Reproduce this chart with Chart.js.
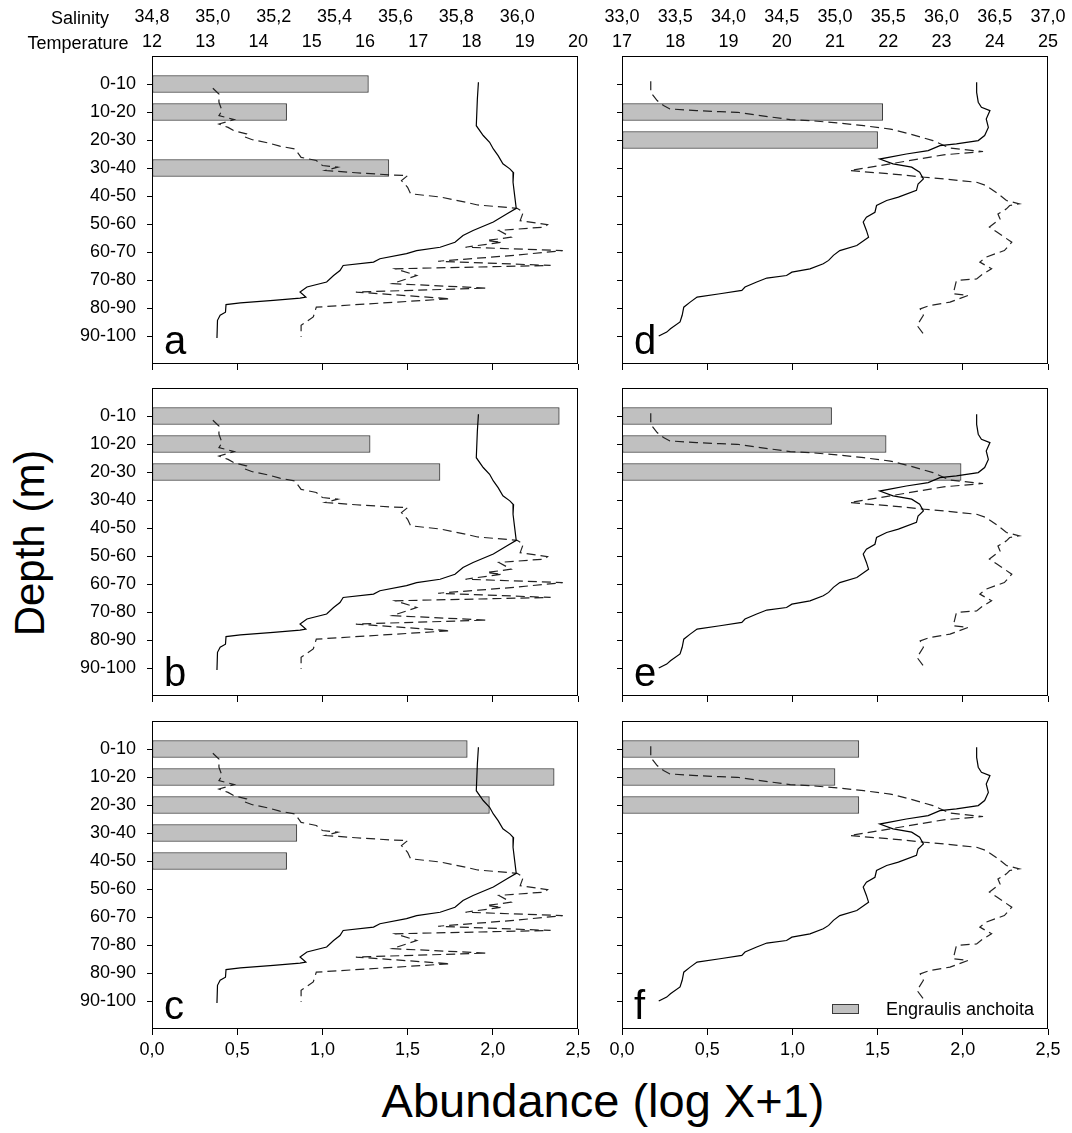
<!DOCTYPE html>
<html>
<head>
<meta charset="utf-8">
<script src="https://cdn.jsdelivr.net/npm/chart.js@4.4.1/dist/chart.umd.min.js"></script>
<style>
    body { margin: 0; width: 1072px; height: 1133px; position: relative; overflow: hidden; background: #fff;
           font-family: 'Liberation Sans', Arial, Helvetica, sans-serif; color: #000; }
    canvas { position: absolute; }
    .txt { position: absolute; white-space: nowrap; line-height: 1; }
    .legend-box { position: absolute; background: #c0c0c0; border: 1px solid #3a3a3a; box-sizing: border-box; }
</style>
</head>
<body>
<script>
const categories = ['0-10', '10-20', '20-30', '30-40', '40-50', '50-60', '60-70', '70-80', '80-90', '90-100'];

// abundance (log X+1) per depth stratum, null = no catch
const abundanceA = [1.27, 0.79, null, 1.39, null, null, null, null, null, null];
const abundanceB = [2.39, 1.28, 1.69, null, null, null, null, null, null, null];
const abundanceC = [1.85, 2.36, 1.98, 0.85, 0.79, null, null, null, null, null];
const abundanceD = [null, 1.53, 1.50, null, null, null, null, null, null, null];
const abundanceE = [1.23, 1.55, 1.99, null, null, null, null, null, null, null];
const abundanceF = [1.39, 1.25, 1.39, null, null, null, null, null, null, null];

const abundanceTicks = [0, 0.5, 1, 1.5, 2, 2.5];
const leftTempTicks = [12, 13, 14, 15, 16, 17, 18, 19, 20];
const leftSalTicks = [34.8, 35.0, 35.2, 35.4, 35.6, 35.8, 36.0];
const rightTempTicks = [17, 18, 19, 20, 21, 22, 23, 24, 25];
const rightSalTicks = [33.0, 33.5, 34.0, 34.5, 35.0, 35.5, 36.0, 36.5, 37.0];

// CTD profiles, left column (a, b, c)
const leftTempDepth = [4.4, 10.4, 19.9, 23.4, 25.8, 28.2, 30.6, 33.5, 35.3, 36.7, 40.1, 44.8, 49.4, 51.4, 54.3, 57.3, 59.1, 61.5, 63.3, 64.5,
    65.6, 67.4, 68.6, 69.8, 71.6, 73.4, 75.7, 77.5, 79.3, 81.1, 81.5, 82.3, 83.2, 83.8, 86.5, 87.6, 89.4, 95.7];
const leftTemp = [18.13, 18.11, 18.09, 18.22, 18.34, 18.41, 18.50, 18.59, 18.72, 18.79, 18.78, 18.81, 18.84, 18.66, 18.41, 18.03, 17.84, 17.69, 17.41, 16.97,
    16.78, 16.28, 16.16, 15.59, 15.53, 15.41, 15.28, 14.91, 14.78, 14.89, 14.78, 14.28, 13.66, 13.39, 13.38, 13.28, 13.23, 13.22];
const leftSalDepth = [6.5, 8.6, 11.5, 14.5, 16.3, 17.7, 19.3, 20.5, 21.7, 22.8, 23.7, 24.9, 26.0, 27.2, 28.2, 31.2, 32.3, 34.1, 34.7, 35.9,
    36.7, 37.5, 37.7, 39.5, 41.9, 44.2, 45.4, 47.2, 48.2, 49.4, 50.8, 53.8, 55.2, 56.1, 57.3, 59.7, 60.9, 61.5, 63.3, 64.5,
    66.2, 68.3, 69.8, 71.0, 73.4, 76.3, 77.9, 79.3, 81.7, 84.7, 88.2, 91.2, 95.4];
const leftSal = [35.00, 35.02, 35.02, 35.03, 35.02, 35.07, 35.02, 35.05, 35.07, 35.11, 35.10, 35.13, 35.18, 35.22, 35.27, 35.29, 35.34, 35.36, 35.41, 35.37,
    35.47, 35.59, 35.64, 35.62, 35.64, 35.65, 35.75, 35.83, 35.87, 36.00, 36.02, 36.01, 36.10, 36.09, 35.94, 35.98, 35.90, 35.95, 35.83, 36.15,
    35.99, 35.74, 36.11, 35.60, 35.67, 35.59, 35.90, 35.47, 35.78, 35.34, 35.33, 35.29, 35.29];

// CTD profiles, right column (d, e, f)
const rightTempDepth = [4.4, 8.0, 11.5, 13.3, 14.5, 17.5, 20.5, 23.4, 25.2, 26.4, 27.0, 28.8, 30.0, 31.8, 33.5, 34.7, 36.5, 38.9, 40.7, 43.0,
    45.4, 46.6, 48.4, 50.8, 52.6, 54.3, 57.3, 59.7, 62.7, 64.5, 66.2, 68.0, 69.2, 71.0, 72.2, 73.4, 74.3, 75.7, 77.5, 78.7,
    79.9, 81.1, 82.9, 84.7, 87.6, 90.0, 92.4, 93.6, 95.0];
const rightTemp = [23.66, 23.66, 23.69, 23.75, 23.91, 23.84, 23.88, 23.81, 23.69, 23.28, 22.97, 22.75, 22.34, 21.84, 22.09, 22.44, 22.59, 22.66, 22.56, 22.53,
    22.19, 21.97, 21.78, 21.75, 21.59, 21.53, 21.59, 21.63, 21.41, 21.09, 20.97, 20.88, 20.78, 20.53, 20.19, 20.09, 19.72, 19.53, 19.31, 19.25,
    18.84, 18.41, 18.28, 18.16, 18.13, 18.09, 17.91, 17.84, 17.69];
const rightSalDepth = [4.0, 8.0, 10.9, 12.7, 13.9, 14.5, 14.9, 15.1, 16.3, 17.7, 18.1, 18.9, 19.9, 21.1, 22.8, 25.2, 27.9, 29.1, 30.3, 33.5,
    35.9, 36.7, 37.5, 38.3, 38.9, 40.1, 41.3, 44.2, 46.6, 47.8, 48.4, 49.6, 51.4, 53.2, 56.1, 57.9, 61.5, 64.5, 66.8, 68.6,
    71.0, 72.8, 74.6, 75.2, 79.9, 80.5, 82.9, 84.1, 85.3, 87.6, 91.2, 94.8];
const rightSal = [33.27, 33.27, 33.33, 33.39, 33.45, 33.70, 33.92, 34.08, 34.30, 34.58, 34.77, 35.02, 35.27, 35.52, 35.70, 35.92, 36.08, 36.39, 36.02, 35.52,
    35.14, 35.39, 35.64, 35.84, 36.02, 36.33, 36.42, 36.53, 36.61, 36.73, 36.64, 36.61, 36.53, 36.55, 36.45, 36.52, 36.66, 36.59, 36.42, 36.36,
    36.47, 36.39, 36.33, 36.14, 36.11, 36.25, 36.08, 35.89, 35.80, 35.83, 35.77, 35.84];

// layout
const PLOT_W = 426, PLOT_H = 308;
const Y_AXIS_W = 90, PAD_RIGHT = 24, PAD_TOP = 6;
const TEMP_AXIS_H = 26, SAL_AXIS_H = 30;
const colLeft = [152, 622];
const rowTop = [56, 388, 721];
const DEPTH_MIN = -5, DEPTH_MAX = 105;
const FONT = "'Liberation Sans', Arial, Helvetica, sans-serif";

Chart.defaults.font.family = FONT;
Chart.defaults.color = '#000';

const comma = (v, digits) => v.toFixed(digits).replace('.', ',');
// middle of a depth stratum ("10-20" -> 15)
const stratumMid = (label) => label.split('-').map(Number).reduce((a, b) => a + b) / 2;

const columns = [
    { tempTicks: leftTempTicks, salTicks: leftSalTicks, salMax: 36.2,
      tempDepth: leftTempDepth, temp: leftTemp, salDepth: leftSalDepth, sal: leftSal },
    { tempTicks: rightTempTicks, salTicks: rightSalTicks, salMax: 37.0,
      tempDepth: rightTempDepth, temp: rightTemp, salDepth: rightSalDepth, sal: rightSal }
];

const panels = [
    { letter: 'a', col: 0, row: 0, values: abundanceA },
    { letter: 'b', col: 0, row: 1, values: abundanceB },
    { letter: 'c', col: 0, row: 2, values: abundanceC },
    { letter: 'd', col: 1, row: 0, values: abundanceD },
    { letter: 'e', col: 1, row: 1, values: abundanceE },
    { letter: 'f', col: 1, row: 2, values: abundanceF, legend: true }
];

// box round the plot area
const frame = {
    id: 'frame',
    afterDatasetsDraw(chart) {
        const { ctx, chartArea: a } = chart;
        ctx.save();
        ctx.strokeStyle = '#000';
        ctx.lineWidth = 1;
        ctx.strokeRect(a.left + 0.5, a.top + 0.5, a.right - a.left - 1, a.bottom - a.top - 1);
        ctx.restore();
    }
};

function addText(text, css) {
    const d = document.createElement('div');
    d.className = 'txt';
    d.textContent = text;
    d.style.cssText += css;
    document.body.appendChild(d);
    return d;
}

function makePanel(p) {
    const c = columns[p.col];
    const top = p.row === 0;
    const bottom = p.row === 2;
    const topSpace = top ? TEMP_AXIS_H + SAL_AXIS_H : PAD_TOP;
    const bottomH = bottom ? 42 : 10;
    const w = Y_AXIS_W + PLOT_W + PAD_RIGHT;
    const h = topSpace + PLOT_H + bottomH;

    const canvas = document.createElement('canvas');
    canvas.width = w;
    canvas.height = h;
    canvas.style.left = (colLeft[p.col] - Y_AXIS_W) + 'px';
    canvas.style.top = (rowTop[p.row] - topSpace) + 'px';
    canvas.style.width = w + 'px';
    canvas.style.height = h + 'px';
    document.body.appendChild(canvas);

    const tickFont = { size: 18, family: FONT };
    const noPadX = (s) => { s.paddingLeft = 0; s.paddingRight = 0; };

    new Chart(canvas, {
        type: 'bar',
        data: {
            datasets: [
                {
                    type: 'line',
                    label: 'Temperature',
                    data: c.tempDepth.map((d, i) => ({ x: c.temp[i], y: d })),
                    xAxisID: 'temp', yAxisID: 'y',
                    borderColor: '#000', borderWidth: 1.2, pointRadius: 0, tension: 0, order: 1
                },
                {
                    type: 'line',
                    label: 'Salinity',
                    data: c.salDepth.map((d, i) => ({ x: c.sal[i], y: d })),
                    xAxisID: 'sal', yAxisID: 'y',
                    borderColor: '#222', borderWidth: 1.2, borderDash: [9, 5], pointRadius: 0, tension: 0, order: 1
                },
                {
                    type: 'bar',
                    label: 'Engraulis anchoita',
                    data: categories.map((cat, i) => ({ x: p.values[i], y: stratumMid(cat) })).filter(d => d.x != null),
                    xAxisID: 'x', yAxisID: 'y',
                    backgroundColor: '#c0c0c0', borderColor: '#3a3a3a', borderWidth: 1, borderSkipped: false,
                    barThickness: 17, order: 2
                }
            ]
        },
        options: {
            indexAxis: 'y',
            responsive: false,
            animation: false,
            events: [],
            layout: { padding: { top: top ? 0 : PAD_TOP, right: PAD_RIGHT, bottom: 0, left: 0 } },
            plugins: { legend: { display: false }, tooltip: { enabled: false } },
            scales: {
                x: {
                    type: 'linear', axis: 'x', position: 'bottom', offset: false,
                    min: abundanceTicks[0], max: abundanceTicks[abundanceTicks.length - 1],
                    afterBuildTicks: (s) => { s.ticks = abundanceTicks.map(v => ({ value: v })); },
                    afterFit: (s) => { s.height = bottomH; noPadX(s); },
                    border: { display: false },
                    grid: { drawOnChartArea: false, offset: false, color: '#000', tickLength: 6 },
                    ticks: { display: bottom, font: tickFont, padding: 4, autoSkip: false, maxRotation: 0,
                             callback: (v) => comma(v, 1) }
                },
                y: {
                    type: 'linear', axis: 'y', position: 'left', reverse: true, offset: false,
                    min: DEPTH_MIN, max: DEPTH_MAX,
                    afterBuildTicks: (s) => { s.ticks = categories.map(cat => ({ value: stratumMid(cat) })); },
                    afterFit: (s) => { s.width = Y_AXIS_W; s.paddingTop = 0; s.paddingBottom = 0; },
                    border: { display: false },
                    grid: { drawOnChartArea: false, offset: false, color: '#000', tickLength: 5 },
                    ticks: { font: tickFont, padding: 11, autoSkip: false,
                             callback: (v) => p.col === 0 ? categories.find(cat => stratumMid(cat) === v) : '' }
                },
                temp: {
                    type: 'linear', axis: 'x', position: 'top', weight: 0, display: top, offset: false,
                    min: c.tempTicks[0], max: c.tempTicks[c.tempTicks.length - 1],
                    afterBuildTicks: (s) => { s.ticks = c.tempTicks.map(v => ({ value: v })); },
                    afterFit: (s) => { s.height = top ? TEMP_AXIS_H : 0; noPadX(s); },
                    border: { display: false },
                    grid: { display: false, drawTicks: false },
                    ticks: { font: tickFont, padding: 3, autoSkip: false, maxRotation: 0,
                             callback: (v) => String(v) }
                },
                sal: {
                    type: 'linear', axis: 'x', position: 'top', weight: 1, display: top, offset: false,
                    min: c.salTicks[0], max: c.salMax,
                    afterBuildTicks: (s) => { s.ticks = c.salTicks.map(v => ({ value: v })); },
                    afterFit: (s) => { s.height = top ? SAL_AXIS_H : 0; noPadX(s); },
                    border: { display: false },
                    grid: { display: false, drawTicks: false },
                    ticks: { font: tickFont, padding: 2, autoSkip: false, maxRotation: 0,
                             callback: (v) => comma(v, 1) }
                }
            }
        },
        plugins: [frame]
    });

    // panel letter, baseline about 10px above the bottom of the box
    const plotBottom = rowTop[p.row] + PLOT_H;
    addText(p.letter, `font-size:40px;left:${colLeft[p.col] + 12}px;top:${plotBottom - 10 - 34}px;`);

    if (p.legend) {
        const box = document.createElement('div');
        box.className = 'legend-box';
        box.style.cssText = `left:${colLeft[p.col] + 210}px;top:${plotBottom - 25}px;width:27px;height:10px;`;
        document.body.appendChild(box);
        addText('Engraulis anchoita', `font-size:18px;left:${colLeft[p.col] + 264}px;top:${plotBottom - 29}px;`);
    }
}

panels.forEach(makePanel);

addText('Salinity', 'font-size:18px;left:80px;top:9px;transform:translateX(-50%);');
addText('Temperature', 'font-size:18px;left:78px;top:34px;transform:translateX(-50%);');
addText('Depth (m)', 'font-size:42px;left:30px;top:543px;transform:translate(-50%,-50%) rotate(-90deg);');
addText('Abundance (log X+1)', 'font-size:47px;left:603px;top:1100px;transform:translate(-50%,-50%);');
</script>
</body>
</html>
